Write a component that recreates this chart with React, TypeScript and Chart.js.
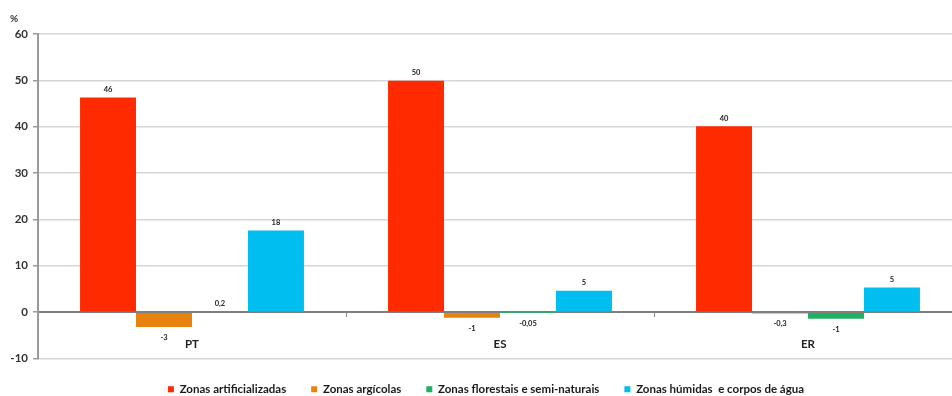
import React, { useEffect, useRef } from "react";
import { Chart, registerables } from "chart.js";

Chart.register(...registerables);

const categories = ["PT", "ES", "ER"];
const seriesNames = [
  "Zonas artificializadas",
  "Zonas argícolas",
  "Zonas florestais e semi-naturais",
  "Zonas húmidas  e corpos de água",
];
const artificial = [46.3, 49.9, 40.1];
const agricola = [-3.2, -1.2, -0.3];
const florestal = [0.2, -0.05, -1.4];
const humidas = [17.6, 4.6, 5.3];
const artificialLabels = ["46", "50", "40"];
const agricolaLabels = ["-3", "-1", "-0,3"];
const florestalLabels = ["0,2", "-0,05", "-1"];
const humidasLabels = ["18", "5", "5"];
const yTicks = [-10, 0, 10, 20, 30, 40, 50, 60];
const colors = ["#FF2A00", "#E8820E", "#1FB060", "#00BEF0"];

const FONT = "Lato, 'Open Sans', sans-serif";

export default function App() {
  const ref = useRef<HTMLCanvasElement | null>(null);

  useEffect(() => {
    if (!ref.current) return;
    const valueLabels = [artificialLabels, agricolaLabels, florestalLabels, humidasLabels];
    const labelPlugin = {
      id: "valueLabels",
      afterDatasetsDraw(chart: any) {
        const ctx = chart.ctx;
        ctx.save();
        ctx.font = `bold 7.5px ${FONT}`;
        ctx.fillStyle = "#222";
        ctx.textAlign = "center";
        ctx.textBaseline = "middle";
        chart.data.datasets.forEach((ds: any, i: number) => {
          const meta = chart.getDatasetMeta(i);
          meta.data.forEach((el: any, j: number) => {
            const v = ds.data[j];
            const txt = valueLabels[i][j];
            if (v >= 0) ctx.fillText(txt, el.x, Math.min(el.y, el.base) - 8);
            else ctx.fillText(txt, el.x, Math.max(el.y, el.base) + 10.5);
          });
        });
        ctx.restore();
      },
    };

    const chart = new Chart(ref.current, {
      type: "bar",
      data: {
        labels: categories,
        datasets: [artificial, agricola, florestal, humidas].map((d, i) => ({
          label: seriesNames[i],
          data: d,
          backgroundColor: colors[i],
          borderWidth: 0,
          barPercentage: 1,
          categoryPercentage: 0.727,
        })),
      },
      options: {
        responsive: false,
        animation: false,
        devicePixelRatio: 1,
        layout: { padding: { left: 10, right: 2, top: 0, bottom: 0 } },
        scales: {
          x: {
            position: { y: 0 } as any,
            grid: {
              drawOnChartArea: false,
              drawTicks: true,
              tickLength: 4,
              tickColor: "#888",
              offset: true,
            },
            border: { display: true, color: "#7f7f7f", width: 2 },
            ticks: {
              padding: 21,
              color: "#222",
              font: { family: FONT, size: 11.5, weight: "bold" },
            },
          },
          y: {
            min: -10,
            max: 60,
            afterFit: (s: any) => {
              s.width = 28;
            },
            afterBuildTicks: (s: any) => {
              s.ticks = yTicks.map((v) => ({ value: v }));
            },
            grid: {
              color: "#d6d6d6",
              lineWidth: 1.5,
              tickLength: 5,
              tickColor: "#9a9a9a",
            },
            border: { display: true, color: "#9a9a9a", width: 2 },
            ticks: {
              padding: 5,
              color: "#333",
              font: { family: FONT, size: 11.5, weight: "bold" },
            },
          },
        },
        plugins: {
          title: {
            display: true,
            text: "%",
            align: "start",
            color: "#333",
            font: { family: FONT, size: 10, weight: "bold", lineHeight: 1.2 },
            padding: { top: 13, bottom: 9 },
          },
          legend: {
            position: "bottom",
            labels: {
              boxWidth: 6,
              boxHeight: 6,
              padding: 25,
              color: "#1a1a1a",
              font: { family: FONT, size: 11.5, weight: "bold" },
            },
          },
          tooltip: { enabled: false },
        },
      },
      plugins: [labelPlugin],
    });
    return () => chart.destroy();
  }, []);

  return (
    <div
      style={{
        position: "absolute",
        left: 0,
        top: 0,
        width: 952,
        height: 396,
        overflow: "hidden",
        background: "#fff",
      }}
    >
      <canvas ref={ref} width={964} height={405} style={{ display: "block" }} />
    </div>
  );
}
